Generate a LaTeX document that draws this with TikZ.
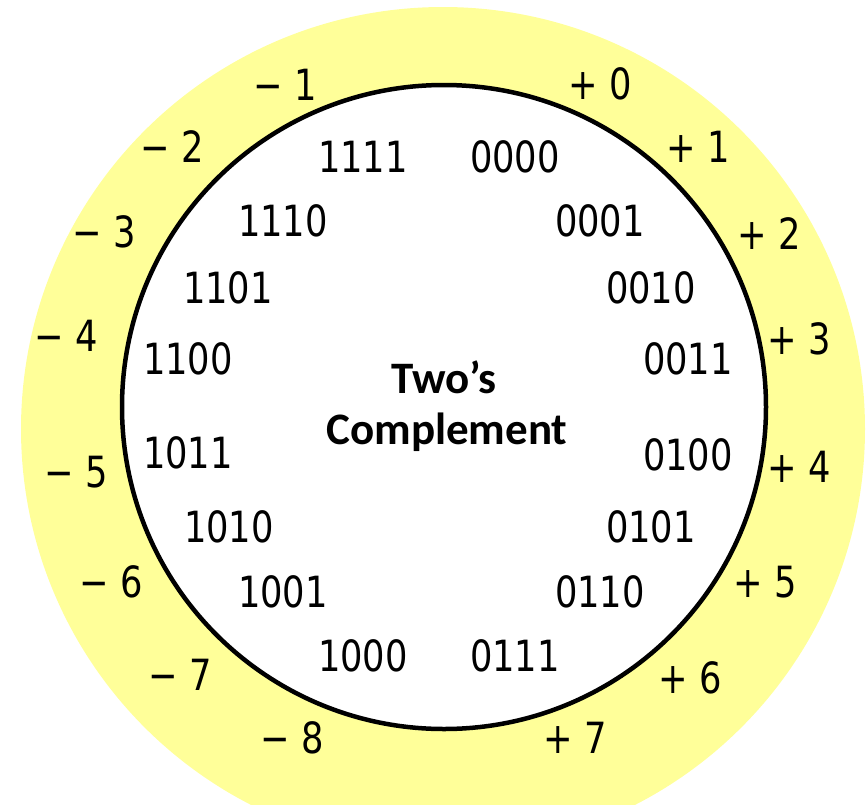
\documentclass[tikz,border=0pt]{standalone}
\usepackage{fontspec}
\setmainfont{DejaVu Sans}[FakeStretch=0.82]
\newfontfamily\titlefont{Carlito}
\definecolor{ringyellow}{HTML}{FFFF99}
\begin{document}
\begin{tikzpicture}[x=1pt,y=-1pt,
  bin/.style={font=\fontsize{43}{43}\selectfont, inner sep=0pt, anchor=center},
  sgn/.style={font=\fontsize{43}{43}\selectfont, inner sep=0pt, anchor=center},
  ttl/.style={font=\titlefont\bfseries\fontsize{45}{45}\selectfont, inner sep=0pt}]
\useasboundingbox (0,0) rectangle (868,804);
\clip (0,0) rectangle (868,804);
\fill[ringyellow] (443,429) circle[radius=422];
\draw[line width=4.5pt, fill=white] (444,407) circle[radius=322];
% binary codes
\node[bin] (b1111) at (363,157) {1111};
\node[bin] (b0000) at (515,157) {0000};
\node[bin] (b1110) at (283,221) {1110};
\node[bin] (b0001) at (600,221) {0001};
\node[bin] (b1101) at (228,288) {1101};
\node[bin] (b0010) at (651,288) {0010};
\node[bin] (b1100) at (188,359) {1100};
\node[bin] (b0011) at (688,359) {0011};
\node[bin] (b1011) at (188,453) {1011};
\node[bin] (b0100) at (688,455) {0100};
\node[bin] (b1010) at (229,527) {1010};
\node[bin] (b0101) at (651,527) {0101};
\node[bin] (b1001) at (283,592) {1001};
\node[bin] (b0110) at (600,592) {0110};
\node[bin] (b1000) at (363,656) {1000};
\node[bin] (b0111) at (515,656) {0111};
% signed values
\node[sgn] (m1) at (285,85) {− 1};
\node[sgn] (p0) at (600,84) {+ 0};
\node[sgn] (m2) at (172,147) {− 2};
\node[sgn] (p1) at (698,147) {+ 1};
\node[sgn] (m3) at (104,232) {− 3};
\node[sgn] (p2) at (769,234) {+ 2};
\node[sgn] (m4) at (66,336) {− 4};
\node[sgn] (p3) at (799,339) {+ 3};
\node[sgn] (m5) at (76,472) {− 5};
\node[sgn] (p4) at (799,467) {+ 4};
\node[sgn] (m6) at (111,582) {− 6};
\node[sgn] (p5) at (765,582) {+ 5};
\node[sgn] (m7) at (180,675) {− 7};
\node[sgn] (p6) at (690,678) {+ 6};
\node[sgn] (m8) at (292,738) {− 8};
\node[sgn] (p7) at (575,738) {+ 7};
% title
\node[ttl] (two) at (444,377) {Two’s};
\node[ttl] (comp) at (447,432) {Complement};
\end{tikzpicture}
\end{document}
